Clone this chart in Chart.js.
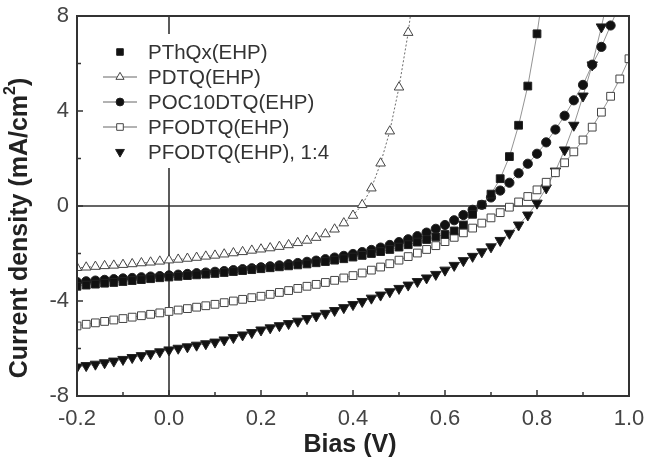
<!DOCTYPE html>
<html>
<head>
<meta charset="utf-8">
<script src="https://cdn.jsdelivr.net/npm/chart.js@4.4.1/dist/chart.umd.min.js"></script>
<style>
  html, body { margin: 0; padding: 0; background: #fff; }
  #jv { display: block; }
</style>
</head>
<body>
<canvas id="jv" width="646" height="464"></canvas>
<script>
// --- data (bias step 0.02 V) ---
const bias = [-0.2,-0.18,-0.16,-0.14,-0.12,-0.1,-0.08,-0.06,-0.04,-0.02,
  0,0.02,0.04,0.06,0.08,0.1,0.12,0.14,0.16,0.18,
  0.2,0.22,0.24,0.26,0.28,0.3,0.32,0.34,0.36,0.38,
  0.4,0.42,0.44,0.46,0.48,0.5,0.52,0.54,0.56,0.58,
  0.6,0.62,0.64,0.66,0.68,0.7,0.72,0.74,0.76,0.78,
  0.8,0.82,0.84,0.86,0.88,0.9,0.92,0.94,0.96,0.98,1.0];

const seriesNames = ['PThQx(EHP)', 'PDTQ(EHP)', 'POC10DTQ(EHP)', 'PFODTQ(EHP)', 'PFODTQ(EHP), 1:4'];

const pthqx = [-3.38,-3.33,-3.29,-3.25,-3.22,-3.18,-3.14,-3.1,-3.06,-3.02,
  -2.99,-2.96,-2.93,-2.9,-2.87,-2.84,-2.8,-2.76,-2.72,-2.68,
  -2.64,-2.6,-2.56,-2.52,-2.48,-2.44,-2.39,-2.34,-2.28,-2.22,
  -2.15,-2.08,-2.0,-1.92,-1.83,-1.73,-1.63,-1.52,-1.41,-1.3,
  -1.2,-1.05,-0.8,-0.35,0.05,0.5,1.15,2.08,3.4,5.05,
  7.25,9.9];

const pdtq = [-2.6,-2.58,-2.55,-2.52,-2.5,-2.47,-2.44,-2.4,-2.37,-2.33,
  -2.28,-2.25,-2.21,-2.17,-2.12,-2.08,-2.03,-1.98,-1.93,-1.87,
  -1.82,-1.77,-1.71,-1.64,-1.55,-1.45,-1.33,-1.18,-0.98,-0.72,
  -0.4,0.05,0.75,1.8,3.15,5.0,7.3,10.3];

const poc10dtq = [-3.2,-3.17,-3.14,-3.11,-3.08,-3.05,-3.03,-3.0,-2.97,-2.95,
  -2.92,-2.89,-2.86,-2.83,-2.8,-2.77,-2.74,-2.7,-2.66,-2.62,
  -2.58,-2.54,-2.5,-2.45,-2.4,-2.35,-2.3,-2.24,-2.17,-2.1,
  -2.02,-1.94,-1.85,-1.75,-1.64,-1.52,-1.4,-1.27,-1.12,-0.96,
  -0.8,-0.6,-0.38,-0.16,0.05,0.36,0.65,0.98,1.38,1.78,
  2.2,2.68,3.22,3.8,4.45,5.1,5.95,6.7,7.6,8.5];

const pfodtq = [-5.05,-4.98,-4.92,-4.86,-4.8,-4.74,-4.68,-4.62,-4.56,-4.5,
  -4.44,-4.38,-4.32,-4.26,-4.2,-4.14,-4.07,-4.0,-3.93,-3.86,
  -3.8,-3.72,-3.64,-3.56,-3.47,-3.38,-3.3,-3.22,-3.13,-3.03,
  -2.93,-2.82,-2.7,-2.57,-2.43,-2.28,-2.13,-1.98,-1.83,-1.67,
  -1.5,-1.32,-1.13,-0.93,-0.72,-0.5,-0.28,-0.05,0.17,0.4,
  0.68,1.0,1.4,1.82,2.28,2.78,3.32,3.95,4.62,5.35,
  6.2];

const pfodtq14 = [-6.78,-6.72,-6.66,-6.6,-6.53,-6.46,-6.38,-6.3,-6.22,-6.14,
  -6.06,-5.99,-5.93,-5.86,-5.8,-5.73,-5.64,-5.54,-5.43,-5.33,
  -5.22,-5.13,-5.04,-4.95,-4.85,-4.74,-4.63,-4.52,-4.4,-4.28,
  -4.15,-4.02,-3.88,-3.75,-3.61,-3.47,-3.33,-3.18,-3.03,-2.88,
  -2.7,-2.5,-2.3,-2.12,-1.93,-1.72,-1.45,-1.15,-0.8,-0.38,
  0.12,0.76,1.47,2.36,3.4,4.63,5.94,7.54,9.3];

// tick values
const xTickVals = [-0.2, 0, 0.2, 0.4, 0.6, 0.8, 1.0];
const xMinorVals = [-0.1, 0.1, 0.3, 0.5, 0.7, 0.9];
const yTickVals = [-8, -4, 0, 4, 8];
const yMinorVals = [-6, -2, 2, 6];

const FONT = "'Liberation Sans', Arial, sans-serif";
const INK = '#333';

function pts(arr) { return arr.map((y, i) => ({ x: bias[i], y: y })); }

function series(label, arr, style) {
  return Object.assign({
    label: label,
    data: pts(arr),
    showLine: true,
    borderColor: '#777',
    borderWidth: 0.8,
    pointBorderColor: '#222',
    pointBorderWidth: 1,
    pointHoverRadius: 0,
    tension: 0
  }, style);
}

const datasets = [
  series(seriesNames[0], pthqx, { pointStyle: 'rect', pointRadius: 5.5, pointBackgroundColor: '#111', legendLine: false }),
  series(seriesNames[1], pdtq, { pointStyle: 'triangle', pointRadius: 5.5, pointBackgroundColor: '#fff', pointBorderColor: '#444', borderDash: [2, 2], borderColor: '#444', legendLine: true }),
  series(seriesNames[2], poc10dtq, { pointStyle: 'circle', pointRadius: 4.6, pointBackgroundColor: '#111', legendLine: true }),
  series(seriesNames[3], pfodtq, { pointStyle: 'rect', pointRadius: 5.5, pointBackgroundColor: '#fff', pointBorderColor: '#444', legendLine: true }),
  series(seriesNames[4], pfodtq14, { pointStyle: 'triangle', pointRotation: 180, pointRadius: 6, pointBackgroundColor: '#111', legendLine: false })
];

// --- frame, zero lines, inward ticks, legend, axis titles ---
const decor = {
  id: 'decor',
  beforeDatasetsDraw(chart) {
    const { ctx, chartArea: a, scales: { x, y } } = chart;
    ctx.save();
    ctx.strokeStyle = INK;
    ctx.lineWidth = 1.6;
    ctx.beginPath();
    ctx.moveTo(a.left, y.getPixelForValue(0));
    ctx.lineTo(a.right, y.getPixelForValue(0));
    ctx.moveTo(x.getPixelForValue(0), a.top);
    ctx.lineTo(x.getPixelForValue(0), a.bottom);
    ctx.stroke();

    ctx.lineWidth = 1.5;
    ctx.beginPath();
    xTickVals.forEach(v => { const px = x.getPixelForValue(v); ctx.moveTo(px, a.bottom); ctx.lineTo(px, a.bottom - 6); });
    xMinorVals.forEach(v => { const px = x.getPixelForValue(v); ctx.moveTo(px, a.bottom); ctx.lineTo(px, a.bottom - 4); });
    yTickVals.forEach(v => { const py = y.getPixelForValue(v); ctx.moveTo(a.left, py); ctx.lineTo(a.left + 6, py); });
    yMinorVals.forEach(v => { const py = y.getPixelForValue(v); ctx.moveTo(a.left, py); ctx.lineTo(a.left + 4, py); });
    ctx.stroke();
    ctx.restore();
  },
  afterDatasetsDraw(chart) {
    const { ctx, chartArea: a } = chart;
    ctx.save();
    // legend box (white, covers the x=0 line like the original)
    ctx.fillStyle = '#fff';
    ctx.fillRect(98, 34, 230, 134);
    const rows = [52, 77, 102, 127, 152];
    chart.data.datasets.forEach((ds, i) => {
      const yy = rows[i];
      if (ds.legendLine) {
        ctx.strokeStyle = '#666';
        ctx.lineWidth = 1;
        ctx.setLineDash([]);
        ctx.beginPath();
        ctx.moveTo(103, yy);
        ctx.lineTo(137, yy);
        ctx.stroke();
      }
      ctx.fillStyle = ds.pointBackgroundColor;
      ctx.strokeStyle = ds.pointBorderColor;
      ctx.lineWidth = 1;
      Chart.helpers.drawPoint(ctx, {
        pointStyle: ds.pointStyle,
        rotation: ds.pointRotation || 0,
        radius: ds.pointRadius * 0.85,
        borderWidth: 1
      }, 120, yy);
      ctx.fillStyle = INK;
      ctx.font = '20.5px ' + FONT;
      ctx.textAlign = 'left';
      ctx.textBaseline = 'middle';
      ctx.fillText(ds.label, 148, yy + 1);
    });

    // frame
    ctx.strokeStyle = INK;
    ctx.lineWidth = 2;
    ctx.strokeRect(a.left, a.top, a.right - a.left, a.bottom - a.top);
    ctx.restore();
  },
  afterDraw(chart) {
    const { ctx, chartArea: a } = chart;
    ctx.save();
    ctx.fillStyle = '#222';
    ctx.font = 'bold 25px ' + FONT;
    ctx.textAlign = 'center';
    ctx.textBaseline = 'middle';
    ctx.fillText('Bias (V)', (a.left + a.right) / 2 - 3, 445);

    // y title with superscript 2
    ctx.translate(20, 228);
    ctx.rotate(-Math.PI / 2);
    const main = 'Current density (mA/cm';
    const sup = '2';
    const tail = ')';
    ctx.font = 'bold 25px ' + FONT;
    const w1 = ctx.measureText(main).width;
    const w3 = ctx.measureText(tail).width;
    ctx.font = 'bold 16px ' + FONT;
    const w2 = ctx.measureText(sup).width;
    const start = -(w1 + w2 + w3) / 2;
    ctx.textAlign = 'left';
    ctx.font = 'bold 25px ' + FONT;
    ctx.fillText(main, start, 0);
    ctx.fillText(tail, start + w1 + w2, 0);
    ctx.font = 'bold 16px ' + FONT;
    ctx.fillText(sup, start + w1, -9);
    ctx.restore();
  }
};

new Chart(document.getElementById('jv'), {
  type: 'line',
  data: { datasets: datasets },
  plugins: [decor],
  options: {
    responsive: false,
    animation: false,
    events: [],
    layout: { padding: { top: 16, right: 17, left: 0, bottom: 0 } },
    plugins: { legend: { display: false }, tooltip: { enabled: false } },
    scales: {
      x: {
        type: 'linear',
        min: -0.2,
        max: 1.0,
        afterBuildTicks: s => { s.ticks = xTickVals.map(v => ({ value: v })); },
        afterFit: s => { s.height = 68; s.paddingLeft = 0; s.paddingRight = 0; },
        grid: { display: false },
        border: { display: false },
        ticks: {
          padding: 2,
          color: '#444',
          font: { family: FONT, size: 22 },
          maxRotation: 0,
          callback: v => Number(v).toFixed(1)
        }
      },
      y: {
        type: 'linear',
        min: -8,
        max: 8,
        afterBuildTicks: s => { s.ticks = yTickVals.map(v => ({ value: v })); },
        afterFit: s => { s.width = 77; s.paddingTop = 0; s.paddingBottom = 0; },
        grid: { display: false },
        border: { display: false },
        ticks: {
          padding: 0,
          color: '#444',
          font: { family: FONT, size: 22 },
          callback: v => String(v)
        }
      }
    }
  }
});
</script>
</body>
</html>
